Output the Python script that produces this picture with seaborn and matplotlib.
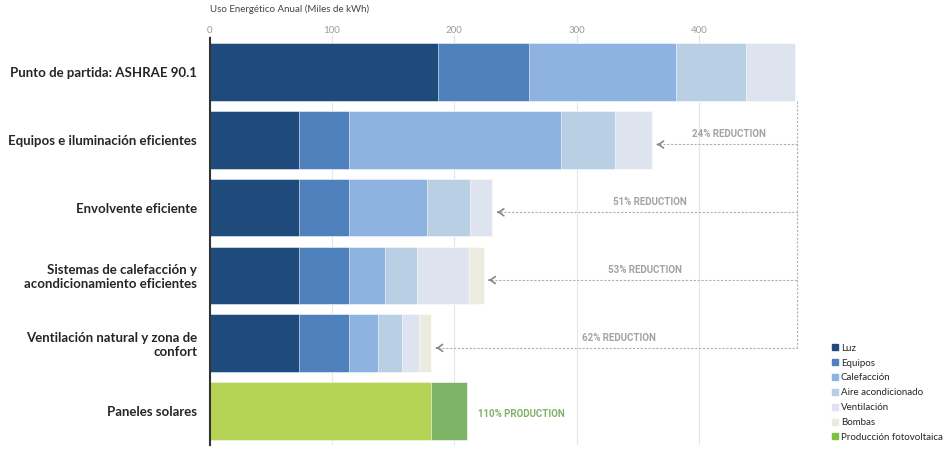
import seaborn as sns
import pandas as pd
from matplotlib import pyplot as plt
from matplotlib.lines import Line2D

escenarios = [
    "Punto de partida: ASHRAE 90.1",
    "Equipos e iluminación eficientes",
    "Envolvente eficiente",
    "Sistemas de calefacción y\nacondicionamiento eficientes",
    "Ventilación natural y zona de\nconfort",
    "Paneles solares",
]

# Miles de kWh por componente
luz = [187, 73, 73, 73, 73, 0]
equipos = [74, 41, 41, 41, 41, 0]
calefaccion = [120, 173, 64, 29, 23.5, 0]
aire = [57.5, 44, 35, 26.5, 19.5, 0]
ventilacion = [40, 30.5, 18, 42.5, 14, 0]
bombas = [0, 0, 0, 12, 10, 0]
fotovoltaica = [0, 0, 0, 0, 0, 181]
fotovoltaica_extra = [0, 0, 0, 0, 0, 29]

reducciones = ["24% REDUCTION", "51% REDUCTION", "53% REDUCTION", "62% REDUCTION"]
produccion = "110% PRODUCTION"

componentes = ["Luz", "Equipos", "Calefacción", "Aire acondicionado", "Ventilación", "Bombas"]
colores = {
    "Luz": "#1f4a7c",
    "Equipos": "#4f81bd",
    "Calefacción": "#8fb3e0",
    "Aire acondicionado": "#b9cfe4",
    "Ventilación": "#dde4ef",
    "Bombas": "#ecebe0",
}

df = pd.DataFrame({
    "Escenario": escenarios,
    "Luz": luz,
    "Equipos": equipos,
    "Calefacción": calefaccion,
    "Aire acondicionado": aire,
    "Ventilación": ventilacion,
    "Bombas": bombas,
})
cum = df[componentes].cumsum(axis=1)
cum["Escenario"] = df["Escenario"]
solar = pd.DataFrame({"Escenario": escenarios, "base": fotovoltaica,
                      "total": [a + b for a, b in zip(fotovoltaica, fotovoltaica_extra)]})

sns.set_style("white")
plt.rcParams["font.family"] = ["Lato", "DejaVu Sans"]

fig = plt.figure(figsize=(9.5, 4.53), dpi=100)
ax = fig.add_axes([0.2206, 0.018, 0.6184, 0.898])

# barras apiladas: acumulados dibujados del más largo al más corto
for comp in reversed(componentes):
    sns.barplot(data=cum, x=comp, y="Escenario", order=escenarios, color=colores[comp],
                width=0.85, edgecolor="white", linewidth=0.4, saturation=1, ax=ax)
sns.barplot(data=solar, x="total", y="Escenario", order=escenarios, color="#7db466",
            width=0.85, edgecolor="white", linewidth=0.4, saturation=1, ax=ax)
sns.barplot(data=solar, x="base", y="Escenario", order=escenarios, color="#b5d455",
            width=0.85, edgecolor="white", linewidth=0.4, saturation=1, ax=ax)

xmax = 480
ax.set_xlim(0, xmax)
ax.set_ylim(5.5, -0.5)
ax.set_xticks([0, 100, 200, 300, 400])
ax.xaxis.tick_top()
ax.xaxis.set_label_position("top")
ax.set_xlabel("Uso Energético Anual (Miles de kWh)", loc="left", fontsize=7,
              color="#444444", labelpad=9.5)
ax.set_ylabel("")
ax.tick_params(axis="x", length=2, color="#dddddd", labelsize=7, labelcolor="#9a9a9a", pad=0.5)
ax.tick_params(axis="y", length=0, pad=9)
for lab in ax.get_yticklabels():
    lab.set_fontsize(9.5)
    lab.set_fontweight("bold")
ax.grid(axis="x", color="#e6e6e6", linewidth=0.8)
ax.set_axisbelow(True)
for s in ["top", "right", "bottom"]:
    ax.spines[s].set_visible(False)
ax.spines["left"].set_color("#333333")
ax.spines["left"].set_linewidth(1.5)

# anotaciones de reducción
gris = "#a3a3a3"
totales = cum["Bombas"].tolist()
for i, texto in enumerate(reducciones, start=1):
    fin = totales[i]
    y = i + 0.07
    ax.plot([fin + 6, xmax], [y, y], ls=(0, (2, 1.5)), color="#b0b0b0", lw=0.8, clip_on=False)
    ax.annotate("", xy=(fin + 2, y), xytext=(fin + 7, y),
                arrowprops=dict(arrowstyle="->,head_length=0.35,head_width=0.25",
                                color="#888888", lw=1.2))
    ax.text((fin + xmax) / 2 + 4, y - 0.15, texto, ha="center", va="center",
            fontsize=7, fontweight="bold", color=gris, family=["Roboto", "DejaVu Sans"])
ax.plot([xmax, xmax], [0.43, len(reducciones) + 0.07], ls=(0, (2, 1.5)), color="#b0b0b0",
        lw=0.8, clip_on=False)

ax.text(solar["total"].iloc[-1] + 9, 5.05, produccion, ha="left", va="center", fontsize=7,
        fontweight="bold", color="#7db466", family=["Roboto", "DejaVu Sans"])

handles = [Line2D([], [], marker="s", ls="", markersize=4, color=colores[c]) for c in componentes]
handles.append(Line2D([], [], marker="s", ls="", markersize=4, color="#7dc142"))
fig.legend(handles, componentes + ["Producción fotovoltaica"], loc="upper left",
           bbox_to_anchor=(0.874, 0.241), frameon=False, fontsize=7, handletextpad=0.1,
           labelspacing=0.6, handlelength=1.0, borderaxespad=0, borderpad=0)

fig.savefig("out.png", dpi=100)
